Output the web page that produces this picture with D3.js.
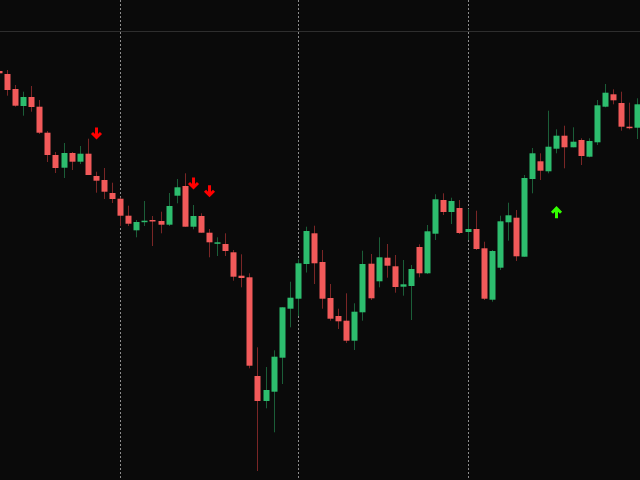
<!DOCTYPE html>
<html>
<head>
<meta charset="utf-8">
<script src="https://cdn.jsdelivr.net/npm/d3@7/dist/d3.min.js"></script>
<style>
  html, body { margin: 0; padding: 0; background: #0a0a0a; overflow: hidden; }
  svg { display: block; }
</style>
</head>
<body>
<svg id="chart" width="640" height="480"></svg>
<script>
// Candle index (first one partly off-screen on the left)
const index = d3.range(-1, 79);

const open  = [409, 406, 391, 374, 383, 373.3, 347.3, 325, 312.3, 327, 318.3, 326.3, 304, 300, 287, 281.3, 264.3, 249.7, 258, 260,
               259, 255.3, 284.3, 294, 253.3, 264, 247.3, 236.3, 236, 227.7, 204.3, 202.7, 104, 79, 88.3, 122.3, 171.3, 181.3, 216, 246.7,
               218, 182, 164, 159.3, 139.3, 167.7, 216.3, 198.7, 222.3, 213.7, 193.3, 194, 233, 206.7, 246.3, 280, 268, 272, 248, 251,
               231.7, 180.3, 212.3, 257.7, 262.3, 223.3, 301, 318.7, 308.7, 331.3, 344.3, 332.7, 340, 323.3, 337.7, 373.3, 385.7, 377, 353.3, 352.3];
const high  = [411, 410, 395, 388.3, 394, 380, 349, 328, 337, 328, 334, 341.3, 308.3, 312, 297.3, 282.3, 274.3, 260, 279, 264,
               268.3, 287, 301, 306.7, 275, 266.7, 251, 242.7, 246.7, 230, 225.7, 206.7, 132.7, 113, 129.7, 172.7, 198.3, 220.7, 253.3, 254.3,
               230, 196, 171.3, 186.7, 176.7, 229.3, 226, 242.7, 236, 225, 220, 215, 235.7, 255, 285.7, 286.7, 282.3, 280, 271, 269.3,
               238.3, 230, 264.3, 277.3, 270, 305, 332, 326.7, 369.3, 350.7, 354.3, 352.7, 341.7, 341.7, 380, 396, 390.7, 388.3, 377.3, 381.7];
const low   = [405, 384.3, 373.3, 364.3, 368.3, 346, 318, 307, 302, 310, 316, 305, 287.3, 281, 277, 254, 254, 242.7, 254, 234,
               246.7, 254, 276.7, 253.3, 250.7, 247.3, 222.7, 224, 224, 199.3, 192.7, 111.7, 9, 71.7, 47.7, 96, 152.7, 164, 207.5, 196,
               171.3, 159.3, 151, 137, 130, 159.3, 180, 192.7, 202.3, 187.3, 184.3, 160, 202.7, 206, 240, 265, 256, 246, 240, 230,
               180, 178.3, 210, 239.3, 219, 223.3, 286.7, 300, 306.7, 326.7, 311.7, 332.7, 315, 322.7, 335, 372.7, 375.7, 349.3, 350.7, 341];
const close = [406.7, 390, 374.3, 383, 373, 347.3, 325, 312, 327, 318.3, 326.3, 305, 299.3, 288.3, 281, 264.3, 256.3, 258, 259.3, 258.7,
               255.3, 274, 292.7, 253.3, 264, 247.3, 237.7, 237.7, 229, 203.3, 202, 114.3, 79, 90, 123.3, 172.7, 182.3, 216.7, 249, 216.7,
               181.3, 161.3, 158.7, 139.3, 168.3, 216, 181.7, 222.7, 214.3, 193, 195.7, 211, 206.7, 248.7, 280.7, 268, 279, 247, 251, 231,
               181.3, 229, 258.7, 264.7, 223.7, 302, 326.7, 309.3, 333.3, 344.3, 332.7, 338.3, 324, 339, 374.7, 387.3, 379.7, 353.3, 352, 375.7];

// Signal arrows: candle index, arrow tip price, direction
const sellIdx = [11, 23, 25];
const sellTip = [341, 291, 283.3];
const buyIdx  = [68];
const buyTip  = [273.3];

// Reference lines
const hLevel = [449];
const vIdx = [14, 36, 57];

const W = 640, H = 480;
const svg = d3.select("#chart");
svg.append("rect").attr("width", W).attr("height", H).attr("fill", "#0a0a0a");

const x = d3.scaleLinear().domain([0, 78]).range([7, 637.2]);
const y = d3.scaleLinear().domain([0, 480]).range([480, 0]);

const data = index.map((d, i) => ({ i: d, o: open[i], h: high[i], l: low[i], c: close[i] }));

// grid lines
svg.selectAll("line.h").data(hLevel).join("line")
  .attr("x1", 0).attr("x2", W)
  .attr("y1", d => Math.round(y(d)) + 0.5).attr("y2", d => Math.round(y(d)) + 0.5)
  .attr("stroke", "#2e2e2e").attr("stroke-width", 1);

svg.selectAll("line.v").data(vIdx).join("line")
  .attr("x1", d => Math.round(x(d)) + 0.5).attr("x2", d => Math.round(x(d)) + 0.5)
  .attr("y1", 0).attr("y2", H)
  .attr("stroke", "#8c8c8c").attr("stroke-width", 1)
  .attr("stroke-dasharray", "2,2");

const upBody = "#2dbd6e", downBody = "#f25a5a";
const upWick = "#1b5e38", downWick = "#7a2626";
const bw = 6;

const g = svg.append("g");
const candles = g.selectAll("g.c").data(data).join("g");

candles.append("line")
  .attr("x1", d => Math.round(x(d.i)) + 0.5).attr("x2", d => Math.round(x(d.i)) + 0.5)
  .attr("y1", d => y(d.h)).attr("y2", d => y(d.l))
  .attr("stroke", d => d.c >= d.o ? upWick : downWick)
  .attr("stroke-width", 1);

candles.append("rect")
  .attr("x", d => Math.round(x(d.i)) - bw / 2 + 0.5)
  .attr("width", bw)
  .attr("y", d => y(Math.max(d.o, d.c)))
  .attr("height", d => Math.max(1.5, Math.abs(y(d.o) - y(d.c))))
  .attr("fill", d => d.c >= d.o ? upBody : downBody);

// arrows
function arrowPath(dir) {
  // dir = 1 for down (tip at bottom), -1 for up (tip at top)
  const p = d3.path();
  p.moveTo(0, -11.5 * dir); p.lineTo(0, -1.5 * dir);
  p.moveTo(-4.5, -6 * dir); p.lineTo(0, -1.5 * dir); p.lineTo(4.5, -6 * dir);
  return p.toString();
}

svg.selectAll("path.sell").data(sellIdx).join("path")
  .attr("transform", (d, i) => `translate(${Math.round(x(d)) + 0.5},${y(sellTip[i])})`)
  .attr("d", arrowPath(1))
  .attr("fill", "none").attr("stroke", "#ff0000").attr("stroke-width", 3)
  .attr("stroke-linecap", "butt").attr("stroke-linejoin", "miter");

svg.selectAll("path.buy").data(buyIdx).join("path")
  .attr("transform", (d, i) => `translate(${Math.round(x(d)) + 0.5},${y(buyTip[i])})`)
  .attr("d", arrowPath(-1))
  .attr("fill", "none").attr("stroke", "#33ff00").attr("stroke-width", 3)
  .attr("stroke-linecap", "butt").attr("stroke-linejoin", "miter");
</script>
</body>
</html>
